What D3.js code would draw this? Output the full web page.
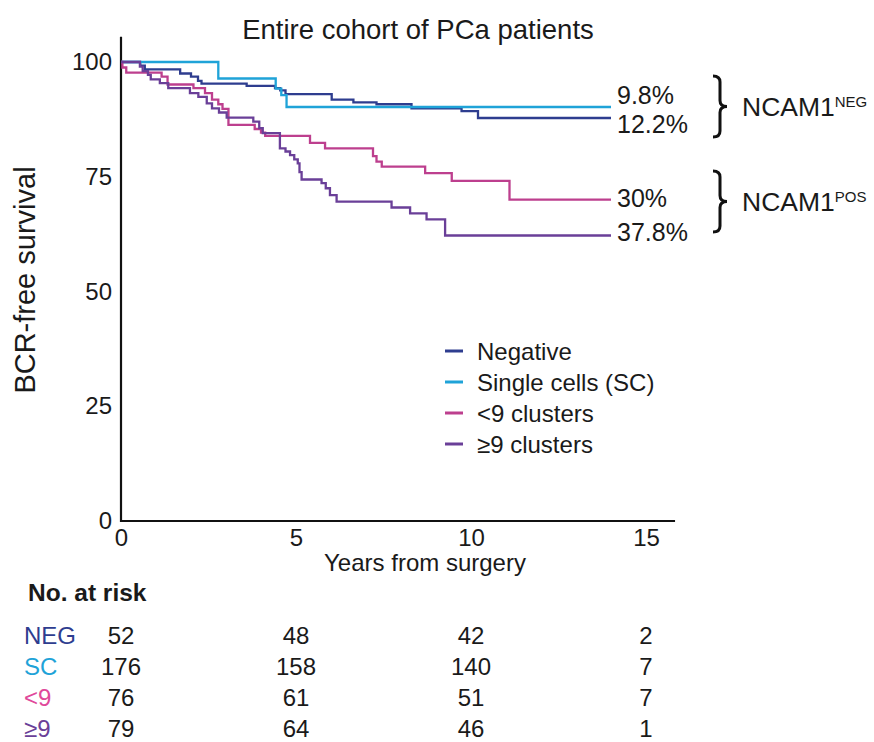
<!DOCTYPE html>
<html>
<head>
<meta charset="utf-8">
<script src="https://cdn.jsdelivr.net/npm/d3@7"></script>
<style>
  html, body { margin: 0; padding: 0; background: #fff; }
  svg text { font-family: "Liberation Sans", Arial, Helvetica, sans-serif; fill: #1a1a1a; }
</style>
</head>
<body>
<svg id="chart" width="874" height="742"></svg>
<script>
// Kaplan–Meier step data: event times (years) and BCR-free survival (%) after each step
const seriesNames = ["Negative", "Single cells (SC)", "<9 clusters", "\u22659 clusters"];
const seriesColors = ["#2e3d8f", "#1fa3d8", "#bd3f8e", "#6a3f98"];

const timesNEG = [0, 0.55, 0.68, 1.69, 2.0, 2.2, 2.3, 3.59, 4.4, 4.55, 4.7, 6.02, 6.64, 7.3, 8.3, 9.73, 10.2];
const survNEG  = [100, 99.2, 98.4, 97.5, 96.8, 95.9, 95.3, 94.8, 94.3, 93.8, 93.0, 91.8, 91.2, 90.8, 89.9, 89.3, 87.8];

const timesSC = [0, 2.78, 4.42, 4.58, 4.73];
const survSC  = [100, 96.4, 94.2, 92.8, 90.2];

const timesLT9 = [0, 0.04, 0.15, 1.16, 1.33, 2.07, 2.4, 2.6, 2.78, 2.9, 3.07, 3.82, 4.0, 4.12, 5.4, 5.83, 7.2, 7.3, 7.45, 8.69, 9.45, 11.1];
const survLT9  = [100, 98.8, 97.7, 96.8, 95.1, 94.3, 93.2, 91.8, 90.8, 89.8, 86.3, 85.4, 84.6, 83.9, 82.4, 81.2, 79.5, 78.3, 77.2, 75.8, 74.1, 70.0];

const timesGE9 = [0, 0.54, 0.62, 0.77, 0.85, 1.11, 1.35, 1.97, 2.21, 2.45, 2.6, 2.8, 3.02, 3.78, 3.95, 4.05, 4.54, 4.7, 4.83, 4.95, 5.05, 5.1, 5.16, 5.73, 5.85, 5.97, 6.16, 7.73, 8.26, 8.73, 9.26];
const survGE9  = [100, 99.0, 98.0, 97.2, 96.2, 95.4, 94.3, 93.2, 92.4, 91.0, 89.9, 89.0, 87.9, 87.0, 85.6, 84.5, 81.2, 80.5, 79.7, 78.8, 77.9, 76.0, 74.4, 73.6, 72.5, 71.0, 69.6, 68.3, 67.0, 65.7, 62.2];

const followUpEnd = 14.0;

// BCR rates printed at the end of each curve
const bcrLabels = ["12.2%", "9.8%", "30%", "37.8%"];

// Axis ticks
const xTicks = [0, 5, 10, 15];
const yTicks = [0, 25, 50, 75, 100];

// Number-at-risk table
const riskGroups = ["NEG", "SC", "<9", "\u22659"];
const riskTimes = [0, 5, 10, 15];
const riskNEG = [52, 48, 42, 2];
const riskSC  = [176, 158, 140, 7];
const riskLT9 = [76, 61, 51, 7];
const riskGE9 = [79, 64, 46, 1];

const svg = d3.select("#chart");
const x = d3.scaleLinear().domain([0, 15]).range([121, 646]);
const y = d3.scaleLinear().domain([0, 100]).range([521, 62]);

const curves = [
  { times: timesNEG, surv: survNEG },
  { times: timesSC,  surv: survSC },
  { times: timesLT9, surv: survLT9 },
  { times: timesGE9, surv: survGE9 }
];

// Title
svg.append("text")
  .attr("x", 418).attr("y", 39)
  .attr("text-anchor", "middle")
  .attr("font-size", 27.5)
  .text("Entire cohort of PCa patients");

// Axes
const axisG = svg.append("g");
axisG.append("line")
  .attr("x1", x(0)).attr("x2", x(0))
  .attr("y1", y(0) + 1).attr("y2", y(105.5))
  .attr("stroke", "#111").attr("stroke-width", 2.2);
axisG.append("line")
  .attr("x1", x(0) - 1).attr("x2", x(15.83))
  .attr("y1", y(0)).attr("y2", y(0))
  .attr("stroke", "#111").attr("stroke-width", 2.2);

const yAxis = d3.axisLeft(y).tickValues(yTicks).tickSize(0).tickPadding(9);
const yg = svg.append("g").attr("transform", `translate(${x(0)},0)`).call(yAxis);
yg.select(".domain").remove();
yg.selectAll("text").attr("font-size", 24).attr("font-family", null).style("fill", "#1a1a1a");

const xAxis = d3.axisBottom(x).tickValues(xTicks).tickSize(0).tickPadding(8);
const xg = svg.append("g").attr("transform", `translate(0,${y(0)})`).call(xAxis);
xg.select(".domain").remove();
xg.selectAll("text").attr("font-size", 24).attr("font-family", null).style("fill", "#1a1a1a");

svg.append("text")
  .attr("x", 425).attr("y", 571)
  .attr("text-anchor", "middle")
  .attr("font-size", 24)
  .text("Years from surgery");

svg.append("text")
  .attr("transform", `translate(35,280) rotate(-90)`)
  .attr("text-anchor", "middle")
  .attr("font-size", 29)
  .text("BCR-free survival");

// Survival curves
const line = d3.line()
  .x(d => x(d[0]))
  .y(d => y(d[1]))
  .curve(d3.curveStepAfter);

curves.forEach((c, i) => {
  const pts = c.times.map((t, k) => [t, c.surv[k]]);
  pts.push([followUpEnd, c.surv[c.surv.length - 1]]);
  svg.append("path")
    .datum(pts)
    .attr("d", line)
    .attr("fill", "none")
    .attr("stroke", seriesColors[i])
    .attr("stroke-width", 2.3);
});

// End-of-curve BCR rates (the two upper labels are pulled apart so they do not collide)
const labelOffsets = [6, -12, -2, -4];
curves.forEach((c, i) => {
  const last = c.surv[c.surv.length - 1];
  svg.append("text")
    .attr("x", x(followUpEnd) + 6)
    .attr("y", y(last) + labelOffsets[i])
    .attr("dy", "0.36em")
    .attr("font-size", 25)
    .text(bcrLabels[i]);
});

// Group braces
function bracePath(x0, y1, y2, w) {
  const m = (y1 + y2) / 2, h = w / 2, r = 6;
  return `M${x0},${y1} Q${x0 + h},${y1} ${x0 + h},${y1 + r} L${x0 + h},${m - r} Q${x0 + h},${m} ${x0 + w},${m}` +
         ` Q${x0 + h},${m} ${x0 + h},${m + r} L${x0 + h},${y2 - r} Q${x0 + h},${y2} ${x0},${y2}`;
}
const groups = [
  { top: 76, bottom: 137, sup: "NEG" },
  { top: 171, bottom: 232, sup: "POS" }
];
groups.forEach(g => {
  svg.append("path")
    .attr("d", bracePath(713, g.top, g.bottom, 14))
    .attr("fill", "none")
    .attr("stroke", "#111")
    .attr("stroke-width", 3);
  const t = svg.append("text")
    .attr("x", 742)
    .attr("y", (g.top + g.bottom) / 2 + 9)
    .attr("font-size", 26.5);
  t.append("tspan").text("NCAM1");
  t.append("tspan").attr("font-size", 15).attr("dy", -9).text(g.sup);
});

// Legend
const legend = svg.append("g");
seriesNames.forEach((name, i) => {
  const ly = 351 + i * 31;
  legend.append("line")
    .attr("x1", 445).attr("x2", 463)
    .attr("y1", ly).attr("y2", ly)
    .attr("stroke", seriesColors[i])
    .attr("stroke-width", 3);
  legend.append("text")
    .attr("x", 477).attr("y", ly)
    .attr("dy", "0.36em")
    .attr("font-size", 24)
    .text(name);
});

// Number-at-risk table
svg.append("text")
  .attr("x", 28).attr("y", 601)
  .attr("font-size", 24.5)
  .attr("font-weight", "bold")
  .text("No. at risk");

const riskRows = [riskNEG, riskSC, riskLT9, riskGE9];
const rowColors = ["#2e3d8f", "#1fa3d8", "#e0489a", "#6a3f98"];
riskRows.forEach((row, i) => {
  const ry = 644 + i * 31;
  svg.append("text")
    .attr("x", 24).attr("y", ry)
    .attr("font-size", 24)
    .style("fill", rowColors[i])
    .text(riskGroups[i]);
  row.forEach((n, k) => {
    svg.append("text")
      .attr("x", x(riskTimes[k])).attr("y", ry)
      .attr("text-anchor", "middle")
      .attr("font-size", 24)
      .text(n);
  });
});
</script>
</body>
</html>
